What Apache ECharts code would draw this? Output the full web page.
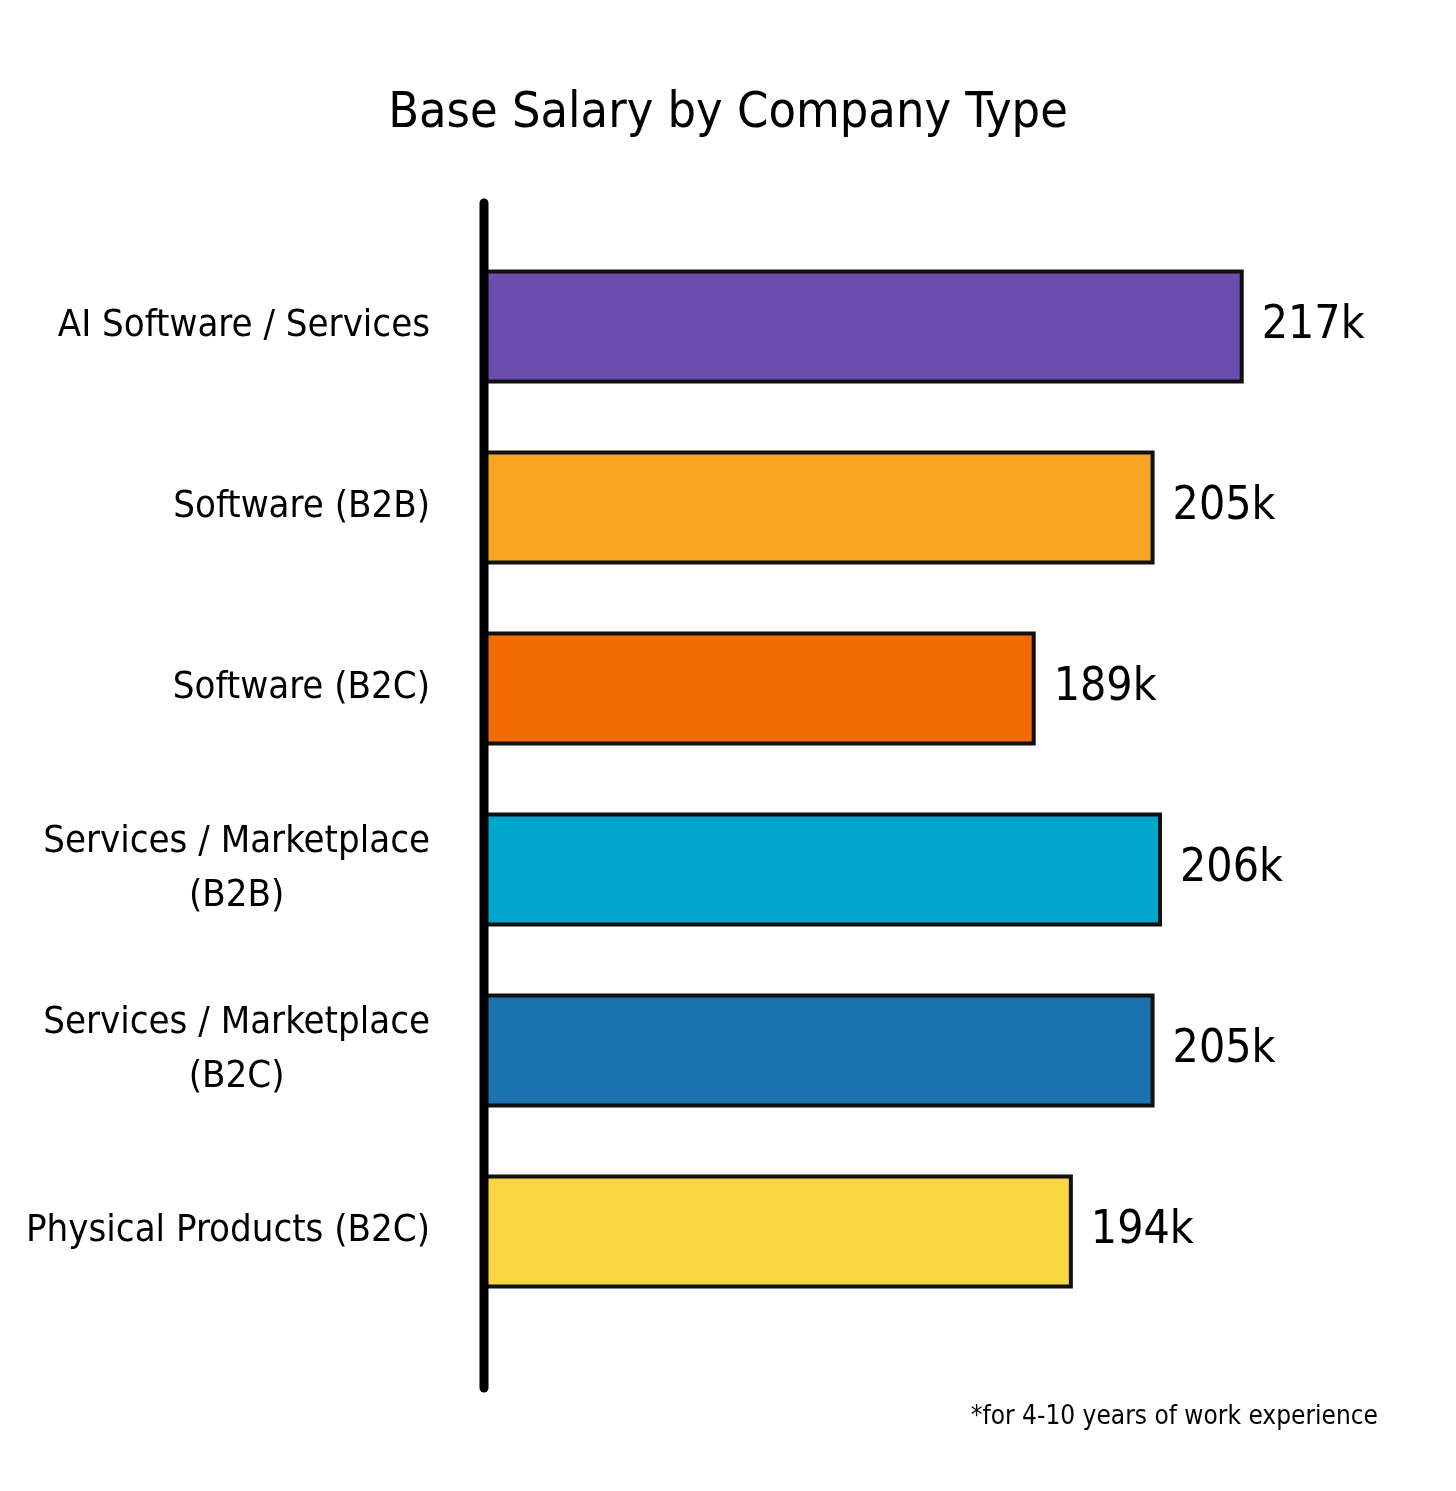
<!DOCTYPE html>
<html>
<head>
<meta charset="utf-8">
<script src="https://cdn.jsdelivr.net/npm/echarts@6/dist/echarts.min.js"></script>
<style>
  html, body { margin: 0; padding: 0; background: #fff; }
  #chart { width: 1456px; height: 1491px; }
</style>
</head>
<body>
<div id="chart"></div>
<script>
// data
var categories = [
  'AI Software / Services',
  'Software (B2B)',
  'Software (B2C)',
  'Services / Marketplace\n(B2B)',
  'Services / Marketplace\n(B2C)',
  'Physical Products (B2C)'
];
var salaries = [217, 205, 189, 206, 205, 194];
var barColors = ['#6b4caf', '#f8a423', '#f26b05', '#00a5cb', '#1b72ae', '#f8d541'];

var FONT = '"Liberation Sans Narrow", "DejaVu Sans Condensed", "Open Sans", sans-serif';
var LABEL_SIZE = 38;

// width of a text line, so the second line of a wrapped label can sit centred under the first
var ctx = document.createElement('canvas').getContext('2d');
function textWidth(s, size) {
  ctx.font = size + 'px ' + FONT;
  return ctx.measureText(s).width;
}

var footnote = {
  type: 'text',
  right: 78,
  top: 1404,
  style: { text: '*for 4-10 years of work experience', font: '26px ' + FONT, fill: '#000' }
};

var chart = echarts.init(document.getElementById('chart'));

var option = {
  backgroundColor: '#fff',
  animation: false,
  title: {
    text: 'Base Salary by Company Type',
    left: 'center',
    top: 84,
    textStyle: { fontFamily: FONT, fontSize: 50, fontWeight: 'normal', color: '#000' }
  },
  grid: { left: 486, right: 190, top: 236, height: 1086, containLabel: false, outerBoundsMode: 'none' },
  xAxis: {
    type: 'value',
    min: 115,
    max: 220,
    show: false
  },
  yAxis: {
    type: 'category',
    inverse: true,
    data: categories,
    axisLine: { show: false },
    axisTick: { show: false },
    axisLabel: {
      margin: 56,
      fontFamily: FONT,
      fontSize: LABEL_SIZE,
      color: '#000',
      lineHeight: 54,
      formatter: function(v) {
        var lines = v.split('\n');
        if (lines.length < 2) return '{a|' + v + '}';
        return '{a|' + lines[0] + '}\n{b|' + lines[1] + '}';
      },
      rich: {
        a: { fontFamily: FONT, fontSize: LABEL_SIZE, color: '#000', lineHeight: 54 },
        b: { fontFamily: FONT, fontSize: LABEL_SIZE, color: '#000', lineHeight: 54,
             width: textWidth('Services / Marketplace', LABEL_SIZE), align: 'center' }
      }
    }
  },
  series: [{
    type: 'bar',
    barCategoryGap: '37%',
    data: salaries.map(function(v, i) {
      return { value: v, itemStyle: { color: barColors[i] } };
    }),
    itemStyle: { borderColor: '#111', borderWidth: 4 },
    label: {
      show: true,
      position: 'right',
      distance: 18,
      formatter: '{c}k',
      fontFamily: FONT,
      fontSize: 46,
      color: '#000'
    }
  }],
  graphic: [footnote]
};

chart.setOption(option);

// the long vertical axis stroke, placed from the grid's own pixel position
var x0 = chart.convertToPixel({ xAxisIndex: 0 }, 115);
chart.setOption({
  graphic: [footnote, {
    type: 'line',
    shape: { x1: x0 - 2, y1: 203, x2: x0 - 2, y2: 1388 },
    style: { stroke: '#000', lineWidth: 9, lineCap: 'round' },
    z: 10
  }]
});
</script>
</body>
</html>
